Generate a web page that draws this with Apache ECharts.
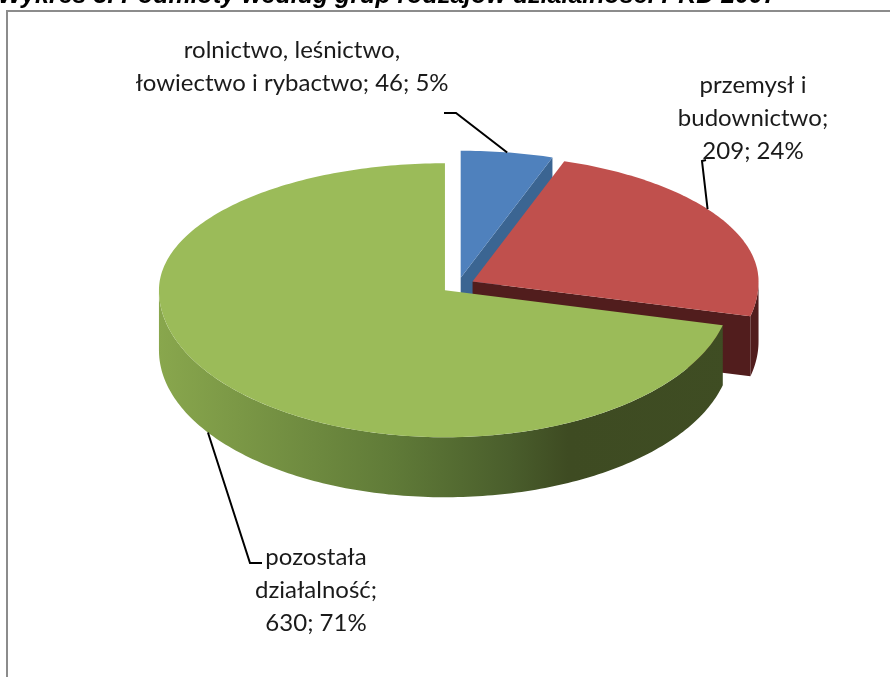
<!DOCTYPE html>
<html>
<head>
<meta charset="utf-8">
<script src="https://cdn.jsdelivr.net/npm/echarts@6/dist/echarts.min.js"></script>
<style>
html, body { margin: 0; padding: 0; background: #fff; }
#main { width: 890px; height: 677px; }
</style>
</head>
<body>
<div id="main"></div>
<script>
// dane wykresu
var titleText = 'Wykres 3. Podmioty według grup rodzajów działalności PKD 2007';
var names = ['rolnictwo, leśnictwo,\nłowiectwo i rybactwo', 'przemysł i\nbudownictwo', 'pozostała\ndziałalność'];
var values = [46, 209, 630];

// kolory (styl Excel 2007)
var topColors = ['#4f81bd', '#c0504d', '#9bbb59'];
var sideColors = ['#3b6592', '#511d1d', null];

// "3D" pie - geometria
var cx = 458, cy = 285, rx = 286, ryTop = 127, ryBot = 147, depth = 60, explode = 0.058;
// etykiety
var labelPos = [[292, 67], [753, 118], [316, 590]];
var labelSep = [' ', '\n', '\n'];
var leaderElbow = [[[444, 113], [456, 113]], [[706, 160], [702, 161]], [[262, 563], [250, 563]]];
var anchorFrac = [0.5, 0.43, 0.516];

var total = values.reduce(function (s, v) { return s + v; }, 0);

function rad(d) { return d * Math.PI / 180; }
function pt(deg, off) {
    var c = Math.cos(rad(deg)), s = Math.sin(rad(deg));
    return [cx + off[0] + rx * s, cy + off[1] - (c > 0 ? ryTop : ryBot) * c];
}
function down(p) { return [p[0], p[1] + depth]; }
function arc(a, b, off) {
    var pts = [], n = Math.max(2, Math.ceil(b - a));
    for (var k = 0; k <= n; k++) pts.push(pt(a + (b - a) * k / n, off));
    return pts;
}

function greenWall() {
    return new echarts.graphic.LinearGradient(cx - rx - 15, 0, cx + rx, 0, [
        { offset: 0, color: '#89a74d' },
        { offset: 0.4, color: '#607b38' },
        { offset: 0.6, color: '#4a5e2c' },
        { offset: 0.7, color: '#3e4b22' },
        { offset: 1, color: '#3f4d23' }
    ], true);
}

function renderItem(params, api) {
    var i = params.dataIndex;
    var before = 0;
    for (var k = 0; k < i; k++) before += values[k];
    var a = before / total * 360;
    var b = (before + values[i]) / total * 360;
    var m = (a + b) / 2;
    var cm = Math.cos(rad(m)), sm = Math.sin(rad(m));
    var off = [explode * rx * sm, -explode * (cm > 0 ? ryTop : ryBot) * cm];
    var apex = [cx + off[0], cy + off[1]];
    var sideFill = sideColors[i] || greenWall();
    var zs = 50 + off[1] * 2;
    var children = [];

    // sciana koncowa (widoczna, gdy skierowana do widza)
    if (Math.sin(rad(b)) > 0.001) {
        var pb = pt(b, off);
        children.push({ type: 'polygon', z2: zs, shape: { points: [apex, pb, down(pb), down(apex)] },
            style: { fill: sideFill } });
    }
    if (Math.sin(rad(a)) < -0.001) {
        var pa = pt(a, off);
        children.push({ type: 'polygon', z2: zs, shape: { points: [apex, pa, down(pa), down(apex)] },
            style: { fill: sideFill } });
    }
    // sciana zewnetrzna (przod)
    var w0 = Math.max(a, 90), w1 = Math.min(b, 270);
    if (w1 > w0) {
        var topArc = arc(w0, w1, off);
        var botArc = topArc.map(down).reverse();
        children.push({ type: 'polygon', z2: zs + 1, shape: { points: topArc.concat(botArc) },
            style: { fill: sideFill } });
    }
    // gorna powierzchnia
    children.push({ type: 'polygon', z2: 100, shape: { points: [apex].concat(arc(a, b, off)) },
        style: { fill: topColors[i] } });

    // linia odniesienia + etykieta
    var t = a + (b - a) * anchorFrac[i];
    var anchor = pt(t, off);
    if (Math.cos(rad(t)) < 0) anchor = down(anchor);
    children.push({ type: 'polyline', z2: 110,
        shape: { points: leaderElbow[i].concat([anchor]) },
        style: { stroke: '#000', lineWidth: 2, fill: null } });
    var pct = Math.round(values[i] / total * 100);
    children.push({ type: 'text', z2: 120, x: labelPos[i][0], y: labelPos[i][1],
        style: {
            text: names[i] + ';' + labelSep[i] + api.value(0) + '; ' + pct + '%',
            fill: '#1a1a1a', font: '24px Lato', align: 'center', verticalAlign: 'middle', lineHeight: 33
        } });

    return { type: 'group', children: children };
}

var chart = echarts.init(document.getElementById('main'));

var option = {
    animation: false,
    backgroundColor: '#fff',
    graphic: [
        { type: 'rect', shape: { x: 7, y: 11, width: 900, height: 700 },
          style: { fill: null, stroke: '#8c8c8c', lineWidth: 2 } },
        { type: 'text', x: -2, y: 9,
          style: { text: titleText, font: 'italic bold 25px "Liberation Sans"', fill: '#000',
                   align: 'left', verticalAlign: 'bottom' } }
    ],
    series: [{
        type: 'custom',
        coordinateSystem: 'none',
        renderItem: renderItem,
        data: values.map(function (v, i) { return { value: v, name: names[i] }; })
    }]
};

chart.setOption(option);
</script>
</body>
</html>
